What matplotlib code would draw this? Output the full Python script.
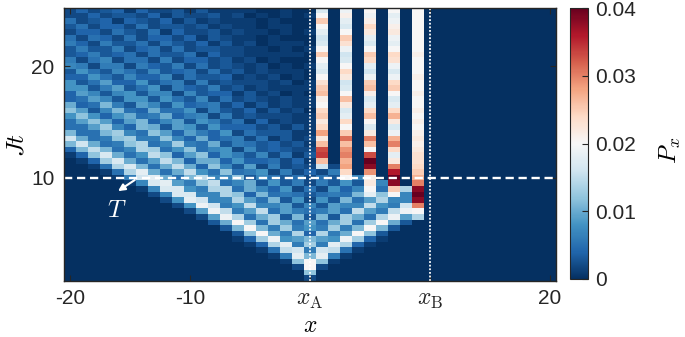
import numpy as np
import matplotlib
matplotlib.use("Agg")
import matplotlib.pyplot as plt

plt.rcParams['mathtext.fontset'] = 'cm'
plt.rcParams['font.family'] = ['Liberation Sans', 'DejaVu Sans']

# ---- data -------------------------------------------------------------
# one character per cell, value = index in LEVELS * 0.001
LEVELS = "0123456789abcdefghijklmnopqrstuvwxyzABCDE"
x_sites = np.arange(-20, 21)                 # lattice sites
jt_values = np.arange(1.0, 25.01, 0.5)       # Jt rows (bottom -> top)
x_tick_pos = [-20, -10, 0, 10, 20]
x_tick_labels = ['-20', '-10', r'$x_{\mathrm{A}}$', r'$x_{\mathrm{B}}$', '20']
y_tick_pos = [10, 20]
cbar_ticks = [0, 0.01, 0.02, 0.03, 0.04]
cbar_labels = ['0', '0.01', '0.02', '0.03', '0.04']
T_line = 10
xA, xB = 0, 10

# each string: one site x (from -20 to 20), values along Jt = 1 ... 25
columns = [
    "00 00 00 00 00 00 00 00 00 00 00 14 bg b5 58 ca 44 88 43 76 33 65 23 52 2",  # -20
    "00 00 00 00 00 00 00 00 00 00 01 4b ga 55 9c 94 59 83 48 62 46 42 45 22 4",  # -19
    "00 00 00 00 00 00 00 00 00 00 14 cf a5 59 c8 35 97 35 85 25 63 25 42 34 2",  # -18
    "00 00 00 00 00 00 00 00 00 01 5d hb 56 bd 94 7b 73 69 53 67 33 64 24 42 3",  # -17
    "00 00 00 00 00 00 00 00 00 15 eh a5 6c d7 48 b6 37 94 37 62 46 32 54 13 4",  # -16
    "00 00 00 00 00 00 00 00 01 6e ha 57 cd 74 9a 53 88 34 75 25 52 35 32 43 1",  # -15
    "00 00 00 00 00 00 00 00 17 gi b5 8e e6 5b b5 49 83 58 43 65 24 52 25 32 4",  # -14
    "00 00 00 00 00 00 00 02 7h ia 59 fd 56 ca 46 a7 37 83 47 42 55 24 52 24 2",  # -13
    "00 00 00 00 00 00 00 27 hi a5 af c5 7c 93 7a 53 87 25 73 36 32 54 13 41 2",  # -12
    "00 00 00 00 00 00 02 8h h9 5a fb 48 d7 49 94 58 52 66 24 62 35 32 43 13 3",  # -11
    "00 00 00 00 00 00 28 ih 86 bf a4 9c 64 98 36 84 37 42 55 24 52 24 22 32 1",  # -10
    "00 00 00 00 00 02 9j g7 6c f8 4a c5 5a 63 87 25 73 36 32 54 13 41 23 12 3",  # -9
    "00 00 00 00 00 39 jg 77 ef 75 ca 47 a4 48 62 66 24 62 35 22 43 13 31 23 1",  # -8
    "00 00 00 00 03 aj f6 7e e5 7c 74 88 35 84 36 32 54 23 42 33 22 32 12 11 1",  # -7
    "00 00 00 01 3b ke 68 ec 57 c5 38 62 66 24 52 24 21 32 13 21 22 11 21 12 1",  # -6
    "00 00 00 14 ck d5 9f 94 aa 36 94 37 52 54 13 41 33 12 21 12 11 21 11 10 1",  # -5
    "00 00 01 4d kb 5a f7 5b 73 78 24 73 35 32 42 13 21 22 12 20 11 00 10 01 0",  # -4
    "00 00 15 ej a6 dd 57 b5 48 52 65 24 41 33 12 31 12 11 21 01 10 11 01 10 0",  # -3
    "00 01 6f i8 6d a3 99 36 83 36 22 53 23 31 22 12 20 12 01 10 11 10 11 01 1",  # -2
    "00 2c ig 69 e6 5b 63 85 26 52 34 12 31 13 11 21 11 10 11 00 10 10 00 00 0",  # -1
    "2c kk b6 db 48 93 57 23 52 24 21 32 12 11 11 01 10 11 00 10 01 00 10 01 0",  # 0
    "00 2c ig 69 e6 5b 63 85 26 52 gq yx qm so mp ok lq pn kh ik pk hg ik pk h",  # 1
    "00 01 6f i8 6d a3 99 36 83 36 20 00 00 00 00 00 00 00 00 00 00 00 00 00 0",  # 2
    "00 00 15 ej a6 dd 57 b5 48 ko sr ut qv pk oi hm qk hg mo kh gj np kh il j",  # 3
    "00 00 01 4d kb 5a f7 5b 73 70 00 00 00 00 00 00 00 00 00 00 00 00 00 00 0",  # 4
    "00 00 00 14 ck d5 9f 9i km lt CE xk qu mh kq oi hl qp jg io pk hi mo lj k",  # 5
    "00 00 00 01 3b ke 68 ec 57 00 00 00 00 00 00 00 00 00 00 00 00 00 00 00 0",  # 6
    "00 00 00 00 03 aj f6 7k pC EA um io ur jh mr oi hk po jh jn ok ij ml ji k",  # 7
    "00 00 00 00 00 39 jg 77 e0 00 00 00 00 00 00 00 00 00 00 00 00 00 00 00 0",  # 8
    "00 00 00 00 00 0e ku CE Cu rp on nm lm lk lk lk kl kk lk kk lk kk kk kk k",  # 9
    "00 00 00 00 00 00 00 00 00 00 00 00 00 00 00 00 00 00 00 00 00 00 00 00 0",  # 10
    "00 00 00 00 00 00 00 00 00 00 00 00 00 00 00 00 00 00 00 00 00 00 00 00 0",  # 11
    "00 00 00 00 00 00 00 00 00 00 00 00 00 00 00 00 00 00 00 00 00 00 00 00 0",  # 12
    "00 00 00 00 00 00 00 00 00 00 00 00 00 00 00 00 00 00 00 00 00 00 00 00 0",  # 13
    "00 00 00 00 00 00 00 00 00 00 00 00 00 00 00 00 00 00 00 00 00 00 00 00 0",  # 14
    "00 00 00 00 00 00 00 00 00 00 00 00 00 00 00 00 00 00 00 00 00 00 00 00 0",  # 15
    "00 00 00 00 00 00 00 00 00 00 00 00 00 00 00 00 00 00 00 00 00 00 00 00 0",  # 16
    "00 00 00 00 00 00 00 00 00 00 00 00 00 00 00 00 00 00 00 00 00 00 00 00 0",  # 17
    "00 00 00 00 00 00 00 00 00 00 00 00 00 00 00 00 00 00 00 00 00 00 00 00 0",  # 18
    "00 00 00 00 00 00 00 00 00 00 00 00 00 00 00 00 00 00 00 00 00 00 00 00 0",  # 19
    "00 00 00 00 00 00 00 00 00 00 00 00 00 00 00 00 00 00 00 00 00 00 00 00 0",  # 20
]

cols = [c.replace(" ", "") for c in columns]
for c in cols:
    assert len(c) == len(jt_values), len(c)
P = np.array([[LEVELS.index(ch) * 0.001 for ch in c] for c in cols]).T  # (Jt, x)

# ---- figure -----------------------------------------------------------
W, H = 685, 337
fig = plt.figure(figsize=(W / 100, H / 100), dpi=100)
ax = fig.add_axes([64 / W, 1 - 281 / H, (556 - 64) / W, (281 - 7.5) / H])

dx = 0.5
dy = 0.25
im = ax.imshow(P, origin='lower', aspect='auto', cmap='RdBu_r', vmin=0, vmax=0.04,
               interpolation='nearest',
               extent=[x_sites[0] - dx, x_sites[-1] + dx,
                       jt_values[0] - dy, jt_values[-1] + dy])

ax.axhline(T_line, color='white', lw=1.7, ls=(0, (3.5, 2.0)))
ax.axvline(xA, color='white', lw=1.3, ls=(0, (1, 1)))
ax.axvline(xB, color='white', lw=1.3, ls=(0, (1, 1)))

ax.annotate('', xy=(-16.0, 8.8), xytext=(-14.6, 9.8),
            arrowprops=dict(arrowstyle='-|>', color='white', lw=1.5, mutation_scale=10,
                            shrinkA=0, shrinkB=0))
ax.text(-16.1, 7.1, '$T$', color='white', fontsize=18, ha='center', va='center')

ax.set_xticks(x_tick_pos)
ax.set_xticklabels(x_tick_labels)
ax.set_yticks(y_tick_pos)
ax.tick_params(direction='in', top=True, right=True, length=4, width=0.8,
               color='#262626', labelcolor='#262626')
ax.tick_params(axis='both', labelsize=15)
ax.tick_params(axis='x', pad=6)
ax.tick_params(axis='y', pad=7)
for lab in ax.get_xticklabels():
    if lab.get_text().startswith('$'):
        lab.set_fontsize(17)
for sp in ax.spines.values():
    sp.set_color('#262626')
    sp.set_linewidth(1.0)

fig.text(16 / W, 1 - 145 / H, '$Jt$', rotation=90, fontsize=18, ha='center', va='center')
fig.text(310 / W, 1 - 326 / H, '$x$', fontsize=17, ha='center', va='center')

cax = fig.add_axes([570 / W, 1 - 279 / H, 18 / W, (279 - 8) / H])
cb = fig.colorbar(im, cax=cax, ticks=cbar_ticks)
cb.ax.set_yticklabels(cbar_labels)
cb.ax.tick_params(direction='in', length=4, width=0.8, labelsize=15, pad=5,
                  color='#262626', labelcolor='#262626')
cb.outline.set_edgecolor('#262626')
cb.outline.set_linewidth(0.8)
fig.text(670 / W, 1 - 150 / H, '$P_x$', rotation=90, fontsize=18, ha='center', va='center')

fig.savefig('out.png', dpi=100)
